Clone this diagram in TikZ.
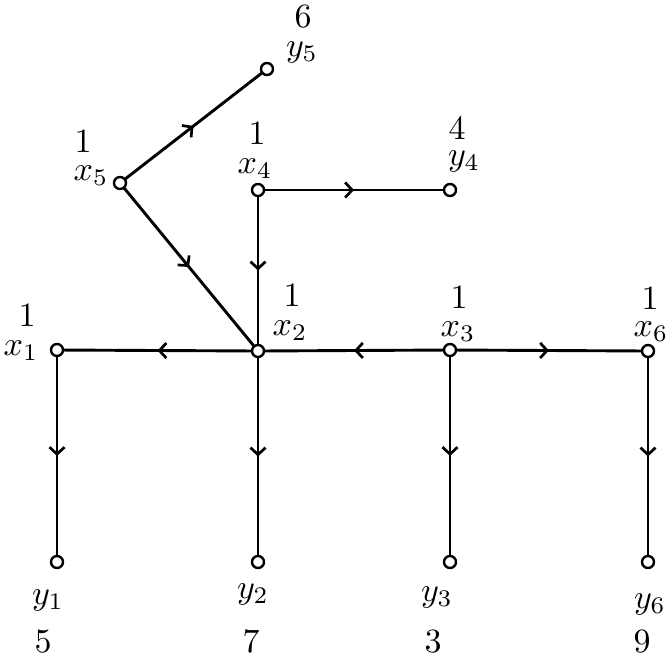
\documentclass[tikz,border=0pt]{standalone}
\usetikzlibrary{arrows.meta,decorations.markings}
\newcommand{\lbltxt}[1]{\scalebox{3.4}{$#1$}}
\begin{document}
\begin{tikzpicture}[x=1pt,y=-1pt,
  vtx/.style={circle,draw,fill=white,line width=2.4pt,minimum size=12pt,inner sep=0pt},
  edge/.style={line width=2.9pt,postaction={decorate},
    decoration={markings,mark=at position 0.5 with {\arrow{Straight Barb[length=7pt,width=15pt,line width=2.7pt]}}}},
  lbl/.style={inner sep=0pt}]
\useasboundingbox (0,0) rectangle (671,665);
\coordinate (cx1) at (57,350);
\coordinate (cx2) at (258,351);
\coordinate (cx3) at (450,350);
\coordinate (cx6) at (648,351);
\coordinate (cx4) at (258,190);
\coordinate (cy4) at (450,190);
\coordinate (cx5) at (120,183);
\coordinate (cy5) at (267,69);
\coordinate (cy1) at (57,562);
\coordinate (cy2) at (258,562);
\coordinate (cy3) at (450,562);
\coordinate (cy6) at (648,562);
\draw[edge] (cx5) -- (cy5);
\draw[edge] (cx5) -- (cx2);
\draw[edge] (cx4) -- (cy4);
\draw[edge] (cx4) -- (cx2);
\draw[edge] (cx2) -- (cx1);
\draw[edge] (cx3) -- (cx2);
\draw[edge] (cx3) -- (cx6);
\draw[edge] (cx1) -- (cy1);
\draw[edge] (cx2) -- (cy2);
\draw[edge] (cx3) -- (cy3);
\draw[edge] (cx6) -- (cy6);
\foreach \n in {x1,x2,x3,x4,x5,x6,y1,y2,y3,y4,y5,y6}
  \node[vtx] (\n) at (c\n) {};
\node[lbl] (wx1) at (27,316) {\lbltxt{1}};
\node[lbl] (lx1) at (21,351) {\lbltxt{x_1}};
\node[lbl] (wx2) at (292,296) {\lbltxt{1}};
\node[lbl] (lx2) at (290,331) {\lbltxt{x_2}};
\node[lbl] (wx3) at (459,298) {\lbltxt{1}};
\node[lbl] (lx3) at (458,332) {\lbltxt{x_3}};
\node[lbl] (wx6) at (650,299) {\lbltxt{1}};
\node[lbl] (lx6) at (651,332) {\lbltxt{x_6}};
\node[lbl] (wx4) at (257,134) {\lbltxt{1}};
\node[lbl] (lx4) at (255,169) {\lbltxt{x_4}};
\node[lbl] (wx5) at (83,142) {\lbltxt{1}};
\node[lbl] (lx5) at (91,176) {\lbltxt{x_5}};
\node[lbl] (wy5) at (303,17) {\lbltxt{6}};
\node[lbl] (ly5) at (302,52) {\lbltxt{y_5}};
\node[lbl] (wy4) at (457,129) {\lbltxt{4}};
\node[lbl] (ly4) at (464,161) {\lbltxt{y_4}};
\node[lbl] (ly1) at (48,600) {\lbltxt{y_1}};
\node[lbl] (wy1) at (43,642) {\lbltxt{5}};
\node[lbl] (ly2) at (253,594) {\lbltxt{y_2}};
\node[lbl] (wy2) at (251,642) {\lbltxt{7}};
\node[lbl] (ly3) at (437,597) {\lbltxt{y_3}};
\node[lbl] (wy3) at (433,642) {\lbltxt{3}};
\node[lbl] (ly6) at (650,604) {\lbltxt{y_6}};
\node[lbl] (wy6) at (642,642) {\lbltxt{9}};
\end{tikzpicture}
\end{document}
